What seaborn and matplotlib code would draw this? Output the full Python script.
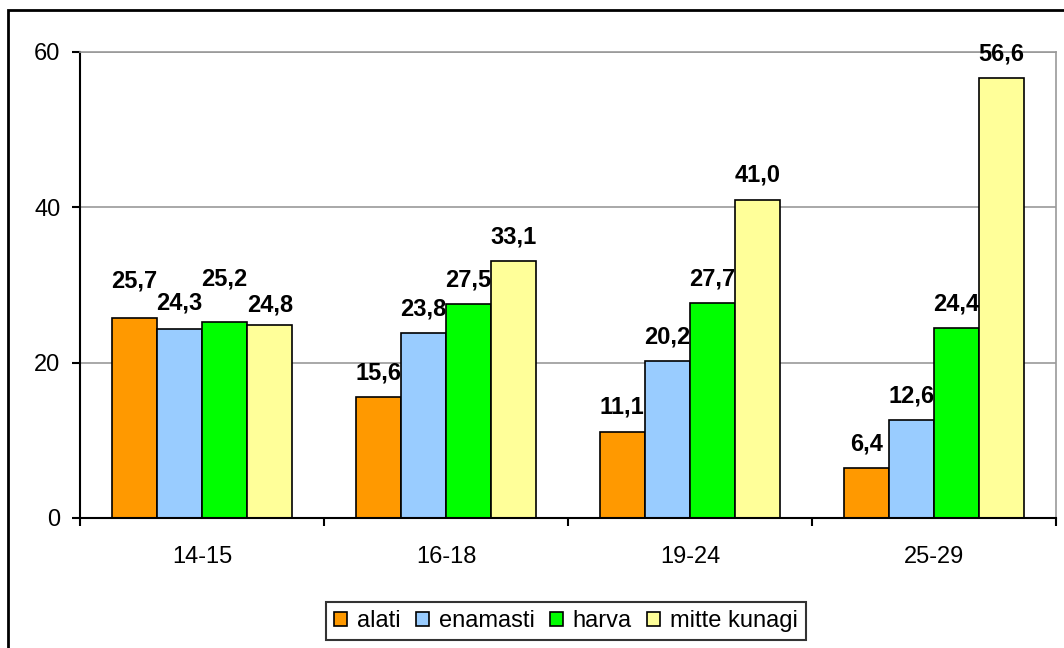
import numpy as np
import pandas as pd
import matplotlib.pyplot as plt
import matplotlib.patches as mpatches
import seaborn as sns

groups = ["14-15", "16-18", "19-24", "25-29"]
series = ["alati", "enamasti", "harva", "mitte kunagi"]
alati = [25.7, 15.6, 11.1, 6.4]
enamasti = [24.3, 23.8, 20.2, 12.6]
harva = [25.2, 27.5, 27.7, 24.4]
mitte_kunagi = [24.8, 33.1, 41.0, 56.6]
colors = ["#FF9900", "#99CCFF", "#00FF00", "#FFFF99"]

df = pd.DataFrame({
    "group": groups * 4,
    "series": [s for s in series for _ in groups],
    "value": alati + enamasti + harva + mitte_kunagi,
})

sns.set_style("white")
plt.rcParams["font.family"] = ["Liberation Sans", "DejaVu Sans"]
plt.rcParams["text.color"] = "black"
plt.rcParams["xtick.color"] = "black"
plt.rcParams["ytick.color"] = "black"
FS = 17

fig = plt.figure(figsize=(10.64, 6.48), dpi=100)
ax = fig.add_axes([80 / 1064, 1 - 518 / 648, 976 / 1064, 466 / 648])

sns.barplot(data=df, x="group", y="value", hue="series", palette=colors,
            saturation=1, width=0.74, edgecolor="black", linewidth=1.2,
            ax=ax, legend=False)

# label offsets (points above bar top) - first group staggered like Excel does
default_off = 17.5
first_group_off = [27, 19, 31, 15]
for si, cont in enumerate(ax.containers):
    for gi, (bar, v) in enumerate(zip(cont.patches, cont.datavalues)):
        off = first_group_off[si] if gi == 0 else default_off
        ax.annotate(f"{v:.1f}".replace(".", ","),
                    (bar.get_x() + bar.get_width() / 2, bar.get_height()),
                    xytext=(0, off), textcoords="offset points",
                    ha="center", va="center", fontsize=FS, fontweight="bold",
                    color="black", annotation_clip=False)

ax.set_ylim(0, 60)
ax.set_xlim(-0.5, 3.5)
ax.set_yticks([0, 20, 40, 60])
ax.yaxis.grid(True, color="#999999", linewidth=1.2)
ax.set_axisbelow(True)
ax.set_xlabel("")
ax.set_ylabel("")
ax.tick_params(axis="y", labelsize=FS, length=6, width=1.5, direction="out", left=True,
               pad=8, labelcolor="black")
ax.tick_params(axis="x", labelsize=FS, length=0, pad=20, labelcolor="black")
# category boundary ticks
ax.set_xticks([-0.5, 0.5, 1.5, 2.5, 3.5], minor=True)
ax.tick_params(axis="x", which="minor", length=6, width=1.5, direction="out", bottom=True)

for side in ["left", "bottom"]:
    ax.spines[side].set_color("black")
    ax.spines[side].set_linewidth(1.5)
for side in ["top", "right"]:
    ax.spines[side].set_color("#999999")
    ax.spines[side].set_linewidth(1.2)

handles = [mpatches.Patch(facecolor=c, edgecolor="black", linewidth=1.2) for c in colors]
leg = fig.legend(handles, series, loc="center", bbox_to_anchor=(566 / 1064, 1 - 621 / 648),
                 ncol=4, fontsize=FS, frameon=True, fancybox=False, handlelength=0.55,
                 handleheight=0.55, handletextpad=0.42, columnspacing=0.64,
                 borderpad=0.35, borderaxespad=0)
leg.get_frame().set_edgecolor("black")
leg.get_frame().set_linewidth(1.5)
for t in leg.get_texts():
    t.set_color("black")

border = mpatches.Rectangle((8 / 1064, -0.05), 1.1, 1 - 10 / 648 + 0.05,
                            transform=fig.transFigure, fill=False,
                            edgecolor="black", linewidth=2, clip_on=False)
fig.patches.append(border)

fig.savefig("out.png", dpi=100)
